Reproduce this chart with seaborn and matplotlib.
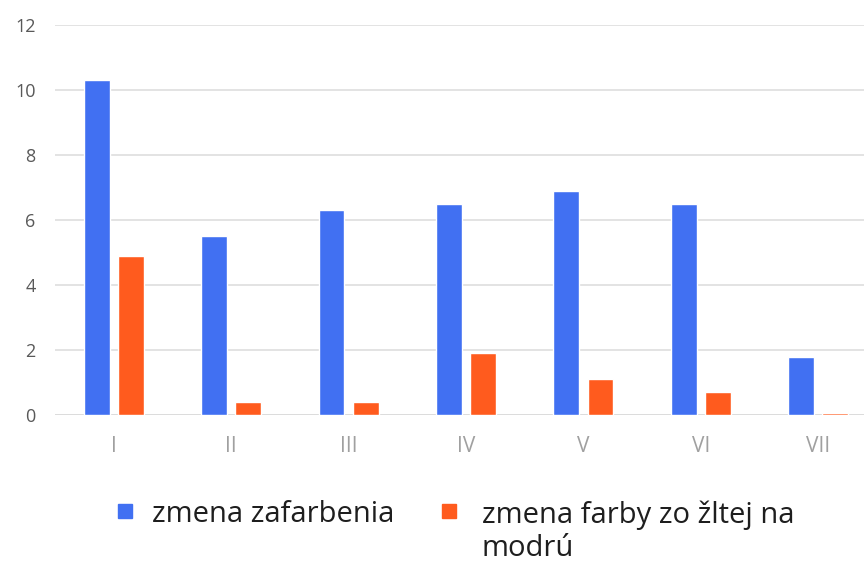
import matplotlib
matplotlib.use("Agg")
import matplotlib.pyplot as plt
from matplotlib.patches import Rectangle
import seaborn as sns
import pandas as pd

categories = ["I", "II", "III", "IV", "V", "VI", "VII"]
zafarbenie = [10.3, 5.5, 6.3, 6.5, 6.9, 6.5, 1.8]
zlta_modra = [4.9, 0.4, 0.4, 1.9, 1.1, 0.7, 0.05]
series_names = ["zmena zafarbenia", "zmena farby zo žltej na\nmodrú"]
colors = ["#4170F2", "#FF5B1E"]
yticks = [0, 2, 4, 6, 8, 10, 12]

df = pd.DataFrame({
    "kategoria": categories * 2,
    "hodnota": zafarbenie + zlta_modra,
    "seria": [series_names[0]] * len(categories) + [series_names[1]] * len(categories),
})

sns.set_style("white")
plt.rcParams["font.family"] = ["Open Sans", "DejaVu Sans"]

fig = plt.figure(figsize=(8.64, 5.62), dpi=100)
# osi presahuju vpravo za okraj obrazka, ako v originali
ax = fig.add_axes([55 / 864, 1 - 415 / 562, 822 / 864, 390 / 562])

sns.barplot(data=df, x="kategoria", y="hodnota", hue="seria", palette=colors,
            width=0.58, gap=0.24, ax=ax, legend=False, saturation=1)

ax.set_ylim(0, 12)
ax.set_yticks(yticks)
ax.set_yticklabels([str(v) for v in yticks], color="#595959", fontsize=13)
ax.tick_params(axis="x", colors="#a0a0a0", labelsize=15, pad=15, length=0)
ax.tick_params(axis="y", length=0, pad=14)
ax.yaxis.grid(True, color="#dedede", linewidth=1.2)
ax.set_axisbelow(True)
ax.set_xlabel("")
ax.set_ylabel("")
sns.despine(ax=ax, left=True, right=True, top=True, bottom=True)
ax.axhline(0, color="#d0d0d0", linewidth=1.2, zorder=0.5)

# legenda pod grafom
for hx, tx, name, col in [(118, 152, series_names[0], colors[0]),
                          (442, 482, series_names[1], colors[1])]:
    fig.add_artist(Rectangle((hx / 864, 1 - 518 / 562), 14 / 864, 14 / 562,
                             transform=fig.transFigure, color=col))
    fig.text(tx / 864, 1 - 500 / 562, name, fontsize=21, color="#1e1e1e",
             va="top", ha="left", linespacing=1.2)

fig.savefig("out.png", dpi=100)
